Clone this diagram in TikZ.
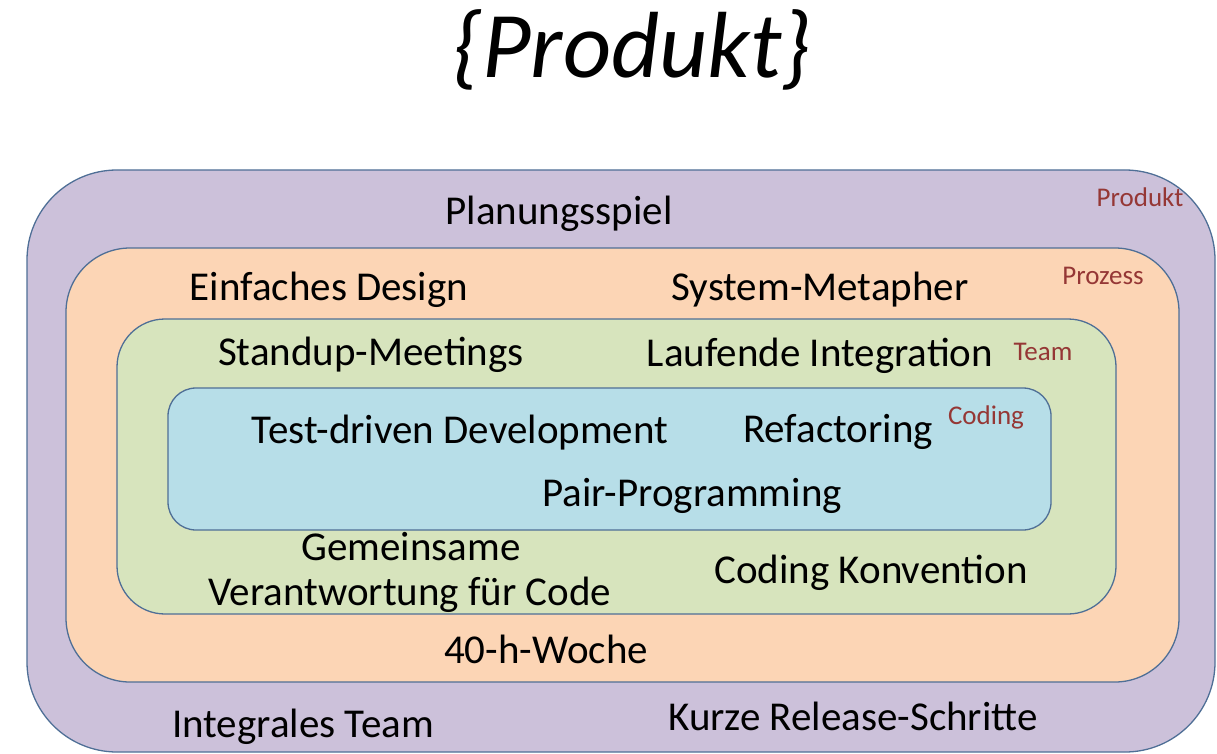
\documentclass[tikz,border=0pt]{standalone}
\usepackage{fontspec}
\setmainfont{Carlito}
\definecolor{cprod}{HTML}{CCC1DA}
\definecolor{cproz}{HTML}{FCD5B5}
\definecolor{cteam}{HTML}{D7E4BD}
\definecolor{ccode}{HTML}{B7DEE8}
\definecolor{cline}{HTML}{4F6F96}
\definecolor{clab}{HTML}{953735}
\tikzset{
  layer/.style={draw=cline, line width=1.3pt, rectangle, inner sep=0pt},
  item/.style={anchor=base, inner sep=0pt, font=\fontsize{41}{44}\selectfont, text=black},
  tag/.style={anchor=base, inner sep=0pt, font=\fontsize{27}{30}\selectfont, text=clab},
}
\begin{document}
\begin{tikzpicture}[x=1pt,y=-1pt]
\useasboundingbox (0,0) rectangle (1217,754);
% layers
\node[layer, fill=cprod, rounded corners=90pt, minimum width=1188pt, minimum height=582pt] (lprod) at (621,461) {};
\node[layer, fill=cproz, rounded corners=64pt, minimum width=1113pt, minimum height=434pt] (lproz) at (622.5,465) {};
\node[layer, fill=cteam, rounded corners=48pt, minimum width=999pt, minimum height=295pt] (lteam) at (616.5,466.5) {};
\node[layer, fill=ccode, rounded corners=28pt, minimum width=883pt, minimum height=142pt] (lcode) at (609.5,459) {};
% title
\node[anchor=base, inner sep=0pt, font=\fontsize{94}{100}\selectfont\itshape] (title) at (632,78) {\{Produkt\}};
% tags
\node[tag] (tprod) at (1140,207) {Produkt};
\node[tag] (tproz) at (1103,284) {Prozess};
\node[tag] (tteam) at (1043,360) {Team};
\node[tag] (tcode) at (986,424) {Coding};
% items
\node[item] (plan) at (559,224) {Planungsspiel};
\node[item] (einf) at (329,300) {Einfaches Design};
\node[item] (meta) at (820,300) {System-Metapher};
\node[item] (stand) at (371,365) {Standup-Meetings};
\node[item] (lauf) at (820,366) {Laufende Integration};
\node[item] (tdd) at (460,443) {Test-driven Development};
\node[item] (refa) at (838,442) {Refactoring};
\node[item] (pair) at (692,506) {Pair-Programming};
\node[item] (gem1) at (411,560) {Gemeinsame};
\node[item] (gem2) at (410,605) {Verantwortung für Code};
\node[item] (konv) at (871,583) {Coding Konvention};
\node[item] (woche) at (546,663) {40-h-Woche};
\node[item] (integ) at (303,737) {Integrales Team};
\node[item] (kurz) at (853,730) {Kurze Release-Schritte};
\end{tikzpicture}
\end{document}
